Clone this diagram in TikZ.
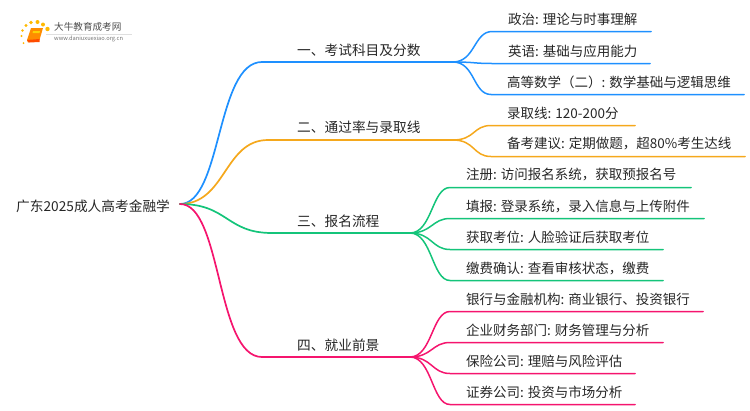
\documentclass[tikz,border=0pt]{standalone}
\usepackage{fontspec}
\setmainfont{Noto Sans CJK SC}
\definecolor{cblue}{HTML}{1E90FF}
\definecolor{corange}{HTML}{F5A81C}
\definecolor{cgreen}{HTML}{14C47A}
\definecolor{cpink}{HTML}{F5156E}
\definecolor{ctext}{HTML}{262626}
\tikzset{
  lbl/.style={anchor=west,inner sep=0pt,text=ctext,font=\fontsize{13.5}{16}\selectfont},
  lbm/.style={lbl,font=\fontsize{13.7}{16}\selectfont},
  wire/.style={line width=1.7pt,line cap=round},
  sub/.style={line width=1.5pt,line cap=round},
}
\begin{document}
\begin{tikzpicture}[x=1pt,y=-1pt]
\useasboundingbox (0,0) rectangle (750,410);
% logo
\foreach \p/\r in {{(23.5,43)/1},{(21.5,36)/1.2},{(22.5,30.5)/1.4},{(26,25.5)/1.6},{(31,22.5)/1.8},{(37.5,22)/2},{(43,24.5)/2},{(47.5,29)/2.2}}
  \fill[fill=orange!55!yellow] \p circle (\r);
\fill[orange!90!yellow] (31,28) -- (43,28) -- (39.5,40) -- (28,42.5) -- (27,40) -- cycle;
\fill[orange!60!red] (27,40) -- (39.5,39) -- (39.5,42) -- (29,42.5) -- cycle;
\fill[yellow!70!orange] (33,31) -- (40,31) -- (39.5,33) -- (32.5,33) -- cycle;
\fill[gray!25] (46,33.5) rectangle (132,34);
\node[anchor=west,inner sep=0pt,text=black!70,font=\fontsize{9.6}{11}\selectfont] (logoa) at (54,27) {大牛教育成考网};
\node[anchor=west,inner sep=0pt,text=black!55,font=\fontsize{5.7}{6}\selectfont] (logob) at (54,39) {www.daniuxuexiao.org.cn};
% root
\node[lbm] (root) at (16,206) {广东2025成人高考金融学};
\coordinate (o) at (180,204);
% branches
\node[lbm] (b1) at (297,50) {一、考试科目及分数};
\node[lbm] (b2) at (297,127) {二、通过率与录取线};
\node[lbm] (b3) at (297,221) {三、报名流程};
\node[lbm] (b4) at (297,345) {四、就业前景};
\coordinate (j1) at (453,62);
\coordinate (j2) at (453,140);
\coordinate (j3) at (410,233);
\coordinate (j4) at (410,357);
\draw[wire,cblue] (o) .. controls (222,204) and (216,62) .. (262,62) -- (j1);
\draw[wire,corange] (o) .. controls (226,204) and (224,140) .. (268,140) -- (j2);
\draw[wire,cgreen] (o) .. controls (228,204) and (226,233) .. (272,233) -- (j3);
\draw[wire,cpink] (o) .. controls (222,204) and (216,357) .. (262,357) -- (j4);
% leaves
\foreach \n/\x/\y/\e/\c/\j/\t in {
 l1/508/19/651/cblue/j1/政治: 理论与时事理解,
 l2/508/51/650/cblue/j1/英语: 基础与应用能力,
 l3/507/82/744/cblue/j1/高等数学（二）: 数学基础与逻辑思维,
 l4/507/113/635/corange/j2/录取线: 120-200分,
 l5/507/144/745/corange/j2/备考建议: 定期做题，超80\%考生达线,
 l6/466/175/691/cgreen/j3/注册: 访问报名系统，获取预报名号,
 l7/466/206/704/cgreen/j3/填报: 登录系统，录入信息与上传附件,
 l8/466/237/663/cgreen/j3/获取考位: 人脸验证后获取考位,
 l9/466/268/663/cgreen/j3/缴费确认: 查看审核状态，缴费,
 l10/466/299/703/cpink/j4/银行与金融机构: 商业银行、投资银行,
 l11/466/330/663/cpink/j4/企业财务部门: 财务管理与分析,
 l12/466/361/635/cpink/j4/保险公司: 理赔与风险评估,
 l13/466/392/635/cpink/j4/证券公司: 投资与市场分析}{
  \node[lbl] (\n) at (\x,\y) {\t};
  \coordinate (\n e) at (\e,\y+12.5);
  \coordinate (\n s) at (\x-16,\y+12.5);
  \draw[sub,\c] (\j) .. controls ([xshift=22]\j) and ([xshift=-18]\n s) .. (\n s) -- (\n e);
}
\end{tikzpicture}
\end{document}
